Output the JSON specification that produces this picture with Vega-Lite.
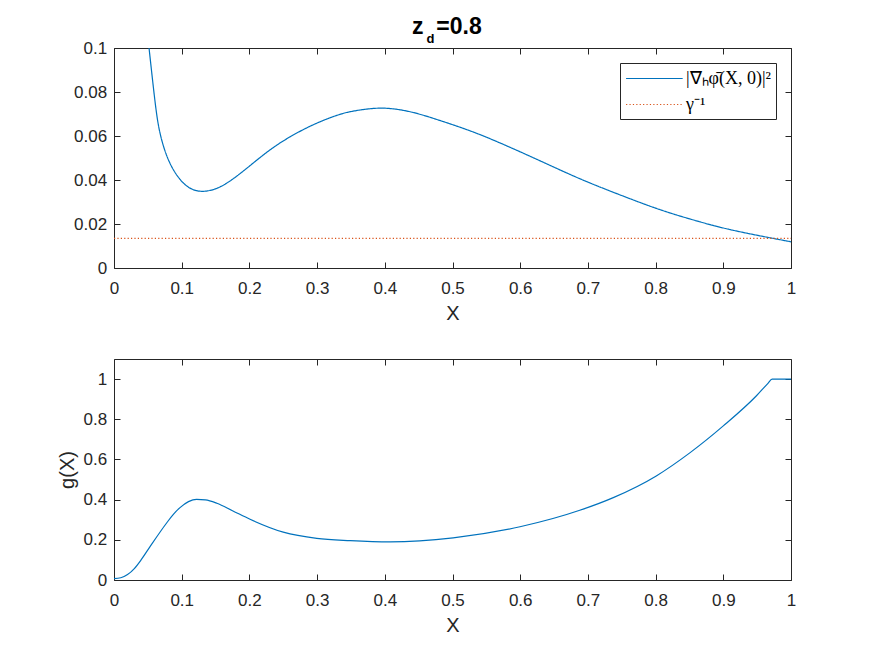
{
  "$schema": "https://vega.github.io/schema/vega-lite/v6.json",
  "background": "white",
  "padding": {"left": 57, "top": 16, "right": 10, "bottom": 10},
  "config": {
    "view": {"stroke": null},
    "axis": {
      "domainColor": "#262626", "tickColor": "#262626", "labelColor": "#262626", "titleColor": "#262626",
      "labelFont": "Liberation Sans", "titleFont": "Liberation Sans", "labelFontSize": 17, "titleFontSize": 20,
      "titleFontWeight": "normal", "grid": false, "tickSize": -6, "domainWidth": 1, "tickWidth": 1, "labelFlush": false
    }
  },
  "datasets": {
    "topA": [
      {"x": 0.047, "y": 0.114, "s": "|∇ₕφ̄(X, 0)|²"},
      {"x": 0.0517, "y": 0.1, "s": "|∇ₕφ̄(X, 0)|²"},
      {"x": 0.0581, "y": 0.0822, "s": "|∇ₕφ̄(X, 0)|²"},
      {"x": 0.0625, "y": 0.0705, "s": "|∇ₕφ̄(X, 0)|²"},
      {"x": 0.0679, "y": 0.0602, "s": "|∇ₕφ̄(X, 0)|²"},
      {"x": 0.0803, "y": 0.048, "s": "|∇ₕφ̄(X, 0)|²"},
      {"x": 0.0975, "y": 0.0397, "s": "|∇ₕφ̄(X, 0)|²"},
      {"x": 0.1123, "y": 0.0359, "s": "|∇ₕφ̄(X, 0)|²"},
      {"x": 0.127, "y": 0.0346, "s": "|∇ₕφ̄(X, 0)|²"},
      {"x": 0.1418, "y": 0.0351, "s": "|∇ₕφ̄(X, 0)|²"},
      {"x": 0.1566, "y": 0.0366, "s": "|∇ₕφ̄(X, 0)|²"},
      {"x": 0.1762, "y": 0.0404, "s": "|∇ₕφ̄(X, 0)|²"},
      {"x": 0.201, "y": 0.0465, "s": "|∇ₕφ̄(X, 0)|²"},
      {"x": 0.24, "y": 0.0564, "s": "|∇ₕφ̄(X, 0)|²"},
      {"x": 0.294, "y": 0.0655, "s": "|∇ₕφ̄(X, 0)|²"},
      {"x": 0.334, "y": 0.07, "s": "|∇ₕφ̄(X, 0)|²"},
      {"x": 0.349, "y": 0.0711, "s": "|∇ₕφ̄(X, 0)|²"},
      {"x": 0.37, "y": 0.0722, "s": "|∇ₕφ̄(X, 0)|²"},
      {"x": 0.398, "y": 0.073, "s": "|∇ₕφ̄(X, 0)|²"},
      {"x": 0.43, "y": 0.0717, "s": "|∇ₕφ̄(X, 0)|²"},
      {"x": 0.457, "y": 0.0695, "s": "|∇ₕφ̄(X, 0)|²"},
      {"x": 0.482, "y": 0.067, "s": "|∇ₕφ̄(X, 0)|²"},
      {"x": 0.531, "y": 0.062, "s": "|∇ₕφ̄(X, 0)|²"},
      {"x": 0.58, "y": 0.0556, "s": "|∇ₕφ̄(X, 0)|²"},
      {"x": 0.629, "y": 0.0488, "s": "|∇ₕφ̄(X, 0)|²"},
      {"x": 0.688, "y": 0.0404, "s": "|∇ₕφ̄(X, 0)|²"},
      {"x": 0.7375, "y": 0.0344, "s": "|∇ₕφ̄(X, 0)|²"},
      {"x": 0.8016, "y": 0.0268, "s": "|∇ₕφ̄(X, 0)|²"},
      {"x": 0.851, "y": 0.0222, "s": "|∇ₕφ̄(X, 0)|²"},
      {"x": 0.9, "y": 0.018, "s": "|∇ₕφ̄(X, 0)|²"},
      {"x": 0.949, "y": 0.0149, "s": "|∇ₕφ̄(X, 0)|²"},
      {"x": 1.0, "y": 0.0119, "s": "|∇ₕφ̄(X, 0)|²"}
    ],
    "topG": [
      {"x": 0, "y": 0.0135, "s": "γ⁻¹"},
      {"x": 1, "y": 0.0135, "s": "γ⁻¹"}
    ],
    "g": [
      {"x": 0.0, "y": 0.007},
      {"x": 0.01, "y": 0.011},
      {"x": 0.02, "y": 0.027},
      {"x": 0.03, "y": 0.057},
      {"x": 0.04, "y": 0.1},
      {"x": 0.053, "y": 0.165},
      {"x": 0.078, "y": 0.285},
      {"x": 0.088, "y": 0.328},
      {"x": 0.0975, "y": 0.36},
      {"x": 0.11, "y": 0.39},
      {"x": 0.122, "y": 0.4015},
      {"x": 0.135, "y": 0.399},
      {"x": 0.152, "y": 0.382},
      {"x": 0.175, "y": 0.345},
      {"x": 0.201, "y": 0.302},
      {"x": 0.25, "y": 0.238},
      {"x": 0.2995, "y": 0.207},
      {"x": 0.349, "y": 0.196},
      {"x": 0.408, "y": 0.19},
      {"x": 0.501, "y": 0.21},
      {"x": 0.5997, "y": 0.265},
      {"x": 0.688, "y": 0.347},
      {"x": 0.7375, "y": 0.41},
      {"x": 0.801, "y": 0.518},
      {"x": 0.851, "y": 0.634},
      {"x": 0.9, "y": 0.767},
      {"x": 0.949, "y": 0.917},
      {"x": 0.966, "y": 0.979},
      {"x": 0.972, "y": 1.0},
      {"x": 1.0, "y": 1.0}
    ]
  },
  "bounds": "flush",
  "spacing": 91,
  "vconcat": [
    {
      "width": 677,
      "height": 220,
      "title": {
        "text": "z\u00a0\u00a0=0.8",
        "subtitle": "\u200b\u00a0\u00a0\u00a0\u00a0d",
        "font": "Liberation Sans", "fontSize": 23, "fontWeight": "bold", "color": "#000000",
        "subtitleFont": "Liberation Sans", "subtitleFontSize": 13, "subtitleFontWeight": "bold", "subtitleColor": "#000000",
        "align": "left", "anchor": "middle", "frame": "group", "dx": -40.5, "subtitlePadding": -6, "offset": -7
      },
      "layer": [
        {
          "data": {"name": "topA"},
          "mark": {"type": "line", "clip": true, "interpolate": "basis", "strokeWidth": 1.2},
          "encoding": {
            "x": {"field": "x", "type": "quantitative", "scale": {"domain": [0, 1], "nice": false},
                  "axis": {"orient": "bottom", "title": "X", "values": [0,0.1,0.2,0.3,0.4,0.5,0.6,0.7,0.8,0.9,1], "format": ".1~f", "labelPadding": 18.7, "titlePadding": 7}},
            "y": {"field": "y", "type": "quantitative", "scale": {"domain": [0, 0.1], "nice": false},
                  "axis": {"orient": "left", "title": null, "values": [0,0.02,0.04,0.06,0.08,0.1], "format": ".2~f", "labelPadding": 13.3}},
            "color": {"field": "s", "type": "nominal",
                      "scale": {"domain": ["|∇ₕφ̄(X, 0)|²", "γ⁻¹"], "range": ["#0072BD", "#D95319"]},
                      "legend": {"title": null, "orient": "top-right", "offset": 15, "padding": 5, "strokeColor": "#262626", "fillColor": "white", "cornerRadius": 0,
                                 "labelFont": "Liberation Serif", "labelFontSize": 18, "labelColor": "#000000", "symbolType": "M-1,0H5", "symbolSize": 356,
                                 "symbolStrokeWidth": 1.2, "rowPadding": 6, "labelOffset": 40, "labelLimit": 300}},
            "strokeDash": {"field": "s", "type": "nominal",
                      "scale": {"domain": ["|∇ₕφ̄(X, 0)|²", "γ⁻¹"], "range": [[1, 0], [1.2, 2.2]]},
                      "legend": {"title": null, "orient": "top-right", "offset": 15, "padding": 5, "strokeColor": "#262626", "fillColor": "white", "cornerRadius": 0,
                                 "labelFont": "Liberation Serif", "labelFontSize": 18, "labelColor": "#000000", "symbolType": "M-1,0H5", "symbolSize": 356,
                                 "symbolStrokeWidth": 1.2, "rowPadding": 6, "labelOffset": 40, "labelLimit": 300}}
          }
        },
        {
          "data": {"name": "topG"},
          "mark": {"type": "line", "strokeWidth": 1.2},
          "encoding": {
            "x": {"field": "x", "type": "quantitative", "scale": {"domain": [0, 1], "nice": false},
                  "axis": {"orient": "top", "title": null, "labels": false, "values": [0,0.1,0.2,0.3,0.4,0.5,0.6,0.7,0.8,0.9,1]}},
            "y": {"field": "y", "type": "quantitative", "scale": {"domain": [0, 0.1], "nice": false},
                  "axis": {"orient": "right", "title": null, "labels": false, "values": [0,0.02,0.04,0.06,0.08,0.1]}},
            "color": {"field": "s", "type": "nominal"},
            "strokeDash": {"field": "s", "type": "nominal"}
          }
        }
      ],
      "resolve": {"axis": {"x": "independent", "y": "independent"}}
    },
    {
      "width": 677,
      "height": 221,
      "data": {"name": "g"},
      "layer": [
        {
          "mark": {"type": "line", "interpolate": "monotone", "strokeWidth": 1.2, "color": "#0072BD"},
          "encoding": {
            "x": {"field": "x", "type": "quantitative", "scale": {"domain": [0, 1], "nice": false},
                  "axis": {"orient": "bottom", "title": "X", "values": [0,0.1,0.2,0.3,0.4,0.5,0.6,0.7,0.8,0.9,1], "format": ".1~f", "labelPadding": 18.7, "titlePadding": 7}},
            "y": {"field": "y", "type": "quantitative", "scale": {"domain": [0, 1.1], "nice": false},
                  "axis": {"orient": "left", "title": "g(X)", "values": [0,0.2,0.4,0.6,0.8,1], "format": ".1~f", "labelPadding": 13.3, "titlePadding": 6}}
          }
        },
        {
          "mark": {"type": "line", "strokeOpacity": 0},
          "encoding": {
            "x": {"field": "x", "type": "quantitative", "scale": {"domain": [0, 1], "nice": false},
                  "axis": {"orient": "top", "title": null, "labels": false, "values": [0,0.1,0.2,0.3,0.4,0.5,0.6,0.7,0.8,0.9,1]}},
            "y": {"field": "y", "type": "quantitative", "scale": {"domain": [0, 1.1], "nice": false},
                  "axis": {"orient": "right", "title": null, "labels": false, "values": [0,0.2,0.4,0.6,0.8,1]}}
          }
        }
      ],
      "resolve": {"axis": {"x": "independent", "y": "independent"}}
    }
  ]
}
